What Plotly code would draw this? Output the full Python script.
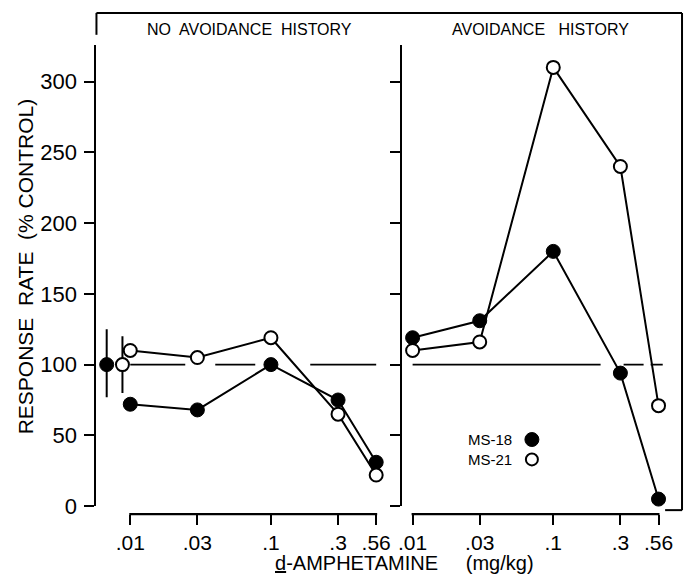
import math
import plotly.graph_objects as go

# ---------------- data ----------------
DOSES = [0.01, 0.03, 0.1, 0.3, 0.56]
TICK_TEXT = [".01", ".03", ".1", ".3", ".56"]

NOAV_MS18 = [72, 68, 100, 75, 31]
NOAV_MS21 = [110, 105, 119, 65, 22]
AV_MS18 = [119, 131, 180, 94, 5]
AV_MS21 = [110, 116, 310, 240, 71]

# control (saline) points shown left of the first dose in left panel
CTRL_X_MS18 = [0.0068]
CTRL_X_MS21 = [0.0088]
CTRL_MS18 = [100]
CTRL_MS21 = [100]
CTRL_MS18_UP = [25]
CTRL_MS18_DN = [23]
CTRL_MS21_UP = [20]
CTRL_MS21_DN = [20]

REF_LEVEL = 100
Y_TICKS = [0, 50, 100, 150, 200, 250, 300]

# ---------------- layout geometry ----------------
W, H = 685, 578
K = 0.983  # vertical correction observed in rendering
FONT = "Liberation Sans"


def px(x):
    return x / W


def py(y):
    return 1 - y / (H * K)


DECADE = 141.5  # px per decade
L_DOM = (93, 392)
R_DOM = (400, 675)
L_X01 = 127
R_X01 = 411
L_RANGE = [-2 - (L_X01 - L_DOM[0]) / DECADE, -2 + (L_DOM[1] - L_X01) / DECADE]
R_RANGE = [-2 - (R_X01 - R_DOM[0]) / DECADE, -2 + (R_DOM[1] - R_X01) / DECADE]
Y_TOP, Y_BOT = 45, 509
Y_RANGE = [0, (Y_BOT - Y_TOP) / (427 / 300)]
XAXIS_Y = 517


def dose_px(v, dom, rng):
    return dom[0] + (math.log10(v) - rng[0]) / (rng[1] - rng[0]) * (dom[1] - dom[0])


fig = go.Figure()

LW = 2
filled = dict(symbol="circle", size=14, color="black", line=dict(color="black", width=1))
opened = dict(symbol="circle", size=13, color="white", line=dict(color="black", width=2))

# reference lines
fig.add_trace(go.Scatter(x=[DOSES[0], DOSES[-1]], y=[REF_LEVEL, REF_LEVEL], mode="lines",
                         line=dict(color="black", width=1.6, dash="55px,30px,40px,55px,67px"),
                         xaxis="x", yaxis="y", hoverinfo="skip"))
fig.add_trace(go.Scatter(x=[DOSES[0], 0.6], y=[REF_LEVEL, REF_LEVEL], mode="lines",
                         line=dict(color="black", width=1.6, dash="188px,23px,20px,7px,13px"),
                         xaxis="x2", yaxis="y2", hoverinfo="skip"))

# left panel
fig.add_trace(go.Scatter(x=DOSES, y=NOAV_MS18, mode="lines+markers", marker=filled,
                         line=dict(color="black", width=LW), cliponaxis=False,
                         xaxis="x", yaxis="y"))
fig.add_trace(go.Scatter(x=DOSES, y=NOAV_MS21, mode="lines+markers", marker=opened,
                         line=dict(color="black", width=LW), cliponaxis=False,
                         xaxis="x", yaxis="y"))
fig.add_trace(go.Scatter(x=CTRL_X_MS18, y=CTRL_MS18, mode="markers", marker=filled,
                         error_y=dict(type="data", symmetric=False, array=CTRL_MS18_UP,
                                      arrayminus=CTRL_MS18_DN, width=0, thickness=2, color="black"),
                         cliponaxis=False, xaxis="x", yaxis="y"))
fig.add_trace(go.Scatter(x=CTRL_X_MS21, y=CTRL_MS21, mode="markers", marker=opened,
                         error_y=dict(type="data", symmetric=False, array=CTRL_MS21_UP,
                                      arrayminus=CTRL_MS21_DN, width=0, thickness=2, color="black"),
                         cliponaxis=False, xaxis="x", yaxis="y"))

# right panel
fig.add_trace(go.Scatter(x=DOSES, y=AV_MS18, mode="lines+markers", marker=filled,
                         line=dict(color="black", width=LW), cliponaxis=False,
                         xaxis="x2", yaxis="y2"))
fig.add_trace(go.Scatter(x=DOSES, y=AV_MS21, mode="lines+markers", marker=opened,
                         line=dict(color="black", width=LW), cliponaxis=False,
                         xaxis="x2", yaxis="y2"))

xcommon = dict(type="log", tickvals=DOSES, ticktext=TICK_TEXT, showgrid=False, zeroline=False,
               showline=False, ticks="outside", ticklen=10, tickwidth=2, tickcolor="black",
               tickfont=dict(family=FONT, size=21, color="black"), anchor="free",
               position=py(XAXIS_Y))
ycommon = dict(range=Y_RANGE, tickvals=Y_TICKS, showgrid=False, zeroline=False, showline=True,
               linewidth=2, linecolor="black", ticks="outside", ticklen=10, tickwidth=2,
               tickcolor="black", tickfont=dict(family=FONT, size=22, color="black"),
               domain=[py(Y_BOT), py(Y_TOP)])

fig.update_layout(
    width=W, height=H, autosize=False,
    margin=dict(l=0, r=0, t=0, b=0),
    paper_bgcolor="white", plot_bgcolor="rgba(0,0,0,0)", showlegend=False,
    xaxis=dict(xcommon, domain=[px(L_DOM[0]), px(L_DOM[1])], range=L_RANGE),
    xaxis2=dict(xcommon, domain=[px(R_DOM[0]), px(R_DOM[1])], range=R_RANGE),
    yaxis=dict(ycommon, anchor="x", ticklabelstandoff=3),
    yaxis2=dict(ycommon, anchor="x2", showticklabels=False),
)

shapes = []
# x-axis baselines spanning first to last dose of each panel
for dom, rng in ((L_DOM, L_RANGE), (R_DOM, R_RANGE)):
    shapes.append(dict(type="rect", xref="paper", yref="paper", layer="above",
                       x0=px(dose_px(DOSES[0], dom, rng) - 1), x1=px(dose_px(DOSES[-1], dom, rng) + 1),
                       y0=py(XAXIS_Y - 1.2), y1=py(XAXIS_Y + 1.2),
                       fillcolor="black", line=dict(width=0)))
# outer frame
frame = [((93, 13), (682, 13)), ((93, 13), (93, 35)), ((682, 13), (682, 513)), ((665, 513), (682, 513))]
for (a, b) in frame:
    shapes.append(dict(type="line", xref="paper", yref="paper", x0=px(a[0]), y0=py(a[1]),
                       x1=px(b[0]), y1=py(b[1]), line=dict(color="black", width=2)))
# legend symbols
shapes.append(dict(type="circle", xref="paper", yref="paper", xsizemode="pixel", ysizemode="pixel",
                   xanchor=px(531), yanchor=py(442), x0=-7, x1=7, y0=-7, y1=7,
                   fillcolor="black", line=dict(color="black", width=1)))
shapes.append(dict(type="circle", xref="paper", yref="paper", xsizemode="pixel", ysizemode="pixel",
                   xanchor=px(531), yanchor=py(462), x0=-6, x1=6, y0=-6, y1=6,
                   fillcolor="white", line=dict(color="black", width=2)))
fig.update_layout(shapes=shapes)

ann = [
    dict(text="NO  AVOIDANCE  HISTORY", x=px(247), y=py(30), size=16),
    dict(text="AVOIDANCE   HISTORY", x=px(540), y=py(30), size=16),
    dict(text="<u>d</u>-AMPHETAMINE     (mg/kg)", x=px(403), y=py(566), size=20),
    dict(text="MS-18", x=px(489), y=py(442), size=15),
    dict(text="MS-21", x=px(489), y=py(462), size=15),
]
for a in ann:
    fig.add_annotation(text=a["text"], x=a["x"], y=a["y"], xref="paper", yref="paper",
                       showarrow=False, xanchor="center", yanchor="middle",
                       font=dict(family=FONT, size=a["size"], color="black"))
fig.add_annotation(text="RESPONSE  RATE  (% CONTROL)", x=px(22), y=py(268), xref="paper",
                   yref="paper", showarrow=False, textangle=-90, xanchor="center",
                   yanchor="middle", font=dict(family=FONT, size=21, color="black"))

fig.write_html("out.html")
